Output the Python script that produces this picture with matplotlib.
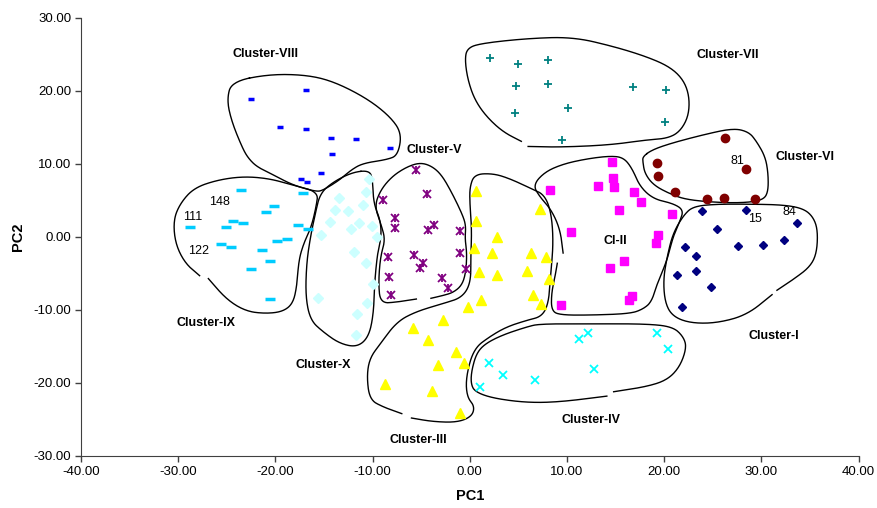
import numpy as np
import matplotlib
matplotlib.use("Agg")
import matplotlib.pyplot as plt
from matplotlib.ticker import FormatStrFormatter

plt.rcParams['font.family'] = ['Liberation Sans', 'DejaVu Sans']
plt.rcParams['axes.unicode_minus'] = False

# ---- cluster data (PC1, PC2) ----
c1_x = [23.9, 28.4, 33.7, 25.4, 22.1, 23.3, 27.6, 30.2, 32.3, 23.3, 21.3, 24.8, 21.8]
c1_y = [3.5, 3.7, 1.9, 1.1, -1.4, -2.6, -1.2, -1.1, -0.4, -4.6, -5.2, -6.8, -9.6]

c2_x = [14.6, 14.7, 14.8, 13.2, 8.2, 16.9, 17.6, 15.4, 20.8, 10.4, 19.4, 19.2, 15.9, 14.4, 16.7, 16.4, 9.4]
c2_y = [10.3, 8.1, 6.8, 7.0, 6.5, 6.1, 4.8, 3.7, 3.1, 0.7, 0.3, -0.8, -3.3, -4.2, -8.1, -8.6, -9.3]

c3_x = [0.6, 7.2, 0.6, 2.8, 0.4, 2.3, 6.3, 7.8, 0.9, 2.8, 5.9, 8.1, 6.5, 7.3, 1.1,
        -0.2, -2.8, -5.8, -4.3, -1.4, -3.3, -0.6, -8.7, -3.9, -1.0]
c3_y = [6.3, 3.8, 2.2, 0.0, -1.5, -2.2, -2.2, -2.7, -4.8, -5.2, -4.6, -5.8, -7.9, -9.2, -8.6,
        -9.6, -11.4, -12.5, -14.1, -15.7, -17.6, -17.3, -20.1, -21.1, -24.1]

c4_x = [12.2, 11.2, 19.3, 20.4, 2.0, 3.4, 6.7, 12.8, 1.0]
c4_y = [-13.1, -14.0, -13.2, -15.4, -17.2, -18.9, -19.6, -18.1, -20.5]

c5_x = [-5.5, -4.4, -8.9, -7.7, -7.7, -4.3, -3.7, -1.0, -8.4, -5.7, -4.8, -5.1, -1.0, -0.4, -8.3, -2.9, -2.2, -8.1]
c5_y = [9.2, 5.9, 5.0, 2.6, 1.2, 0.9, 1.6, 0.8, -2.7, -2.5, -3.5, -4.2, -2.2, -4.4, -5.5, -5.6, -7.0, -8.0]

c6_x = [26.3, 19.3, 19.4, 28.4, 21.1, 24.4, 26.2, 29.3]
c6_y = [13.5, 10.2, 8.3, 9.3, 6.1, 5.2, 5.4, 5.2]

c7_x = [2.1, 5.0, 8.0, 4.8, 8.0, 16.8, 20.2, 4.7, 10.1, 20.1, 9.5]
c7_y = [24.5, 23.7, 24.2, 20.7, 21.0, 20.5, 20.1, 17.0, 17.7, 15.7, 13.3]

c8_x = [-22.5, -16.9, -19.5, -16.9, -14.3, -11.7, -8.2, -14.2, -15.3, -17.4, -16.7]
c8_y = [18.9, 20.2, 15.1, 14.8, 13.5, 13.4, 12.2, 11.3, 8.7, 8.0, 7.6]

c9_x = [-23.5, -17.2, -20.1, -21.0, -24.4, -23.3, -25.1, -28.8, -17.7, -16.6, -18.8, -19.8,
        -25.6, -24.6, -21.4, -20.6, -22.5, -20.6]
c9_y = [6.4, 6.0, 4.3, 3.4, 2.2, 1.9, 1.3, 1.3, 1.6, 1.1, -0.3, -0.5,
        -1.0, -1.4, -1.8, -3.3, -4.4, -8.5]

c10_x = [-10.4, -13.5, -10.7, -13.9, -12.5, -11.0, -14.4, -12.2, -11.4, -10.1, -15.3, -9.6,
         -11.9, -10.7, -10.0, -15.6, -10.6, -11.6, -11.7]
c10_y = [7.9, 5.4, 6.2, 3.7, 3.5, 4.4, 2.0, 1.1, 1.9, 1.5, 0.3, 0.0,
         -2.1, -3.6, -6.4, -8.4, -9.0, -10.6, -13.4]

# point ids written next to some points
id_text = ['148', '111', '122', '81', '15', '84']
id_x = [-25.8, -28.5, -27.9, 27.5, 29.3, 32.9]
id_y = [4.75, 2.8, -1.9, 10.4, 2.5, 3.4]

# cluster names
names = ['Cluster-VIII', 'Cluster-VII', 'Cluster-VI', 'Cluster-V', 'Cl-II', 'Cluster-IX',
         'Cluster-X', 'Cluster-I', 'Cluster-IV', 'Cluster-III']
name_x = [-21.0, 26.5, 34.5, -3.7, 15.0, -27.1, -15.1, 31.3, 12.5, -5.3]
name_y = [25.0, 24.9, 11.0, 11.9, -0.6, -11.8, -17.5, -13.5, -25.1, -27.8]

# hand drawn outlines round the clusters (closed flag = no gap in the line)
out8 = [(-24.5, 21.3), (-20.6, 22.3), (-16.8, 22.2), (-14.0, 21.3), (-10.6, 19.0), (-8.2, 16.5),
        (-7.0, 14.2), (-7.4, 11.2), (-8.5, 10.6), (-11.0, 10.1), (-12.2, 9.2), (-13.4, 7.8),
        (-15.1, 6.4), (-15.8, 6.2), (-18.2, 7.1), (-20.2, 8.5), (-21.9, 9.6), (-22.8, 10.8),
        (-23.4, 12.2), (-24.5, 15.8), (-25.0, 18.8)]
out9 = [(-27.8, -5.3), (-29.3, -3.6), (-30.3, -0.9), (-30.5, 2.3), (-29.8, 4.6), (-28.4, 6.7),
        (-26.0, 7.8), (-23.3, 8.3), (-20.6, 8.0), (-18.2, 7.1), (-15.6, 6.2), (-15.8, 4.2),
        (-16.3, 1.4), (-17.1, -0.9), (-17.6, -3.2), (-17.8, -6.8), (-18.2, -9.1), (-19.2, -10.2),
        (-20.9, -10.5), (-23.0, -10.2), (-25.0, -8.6), (-26.9, -5.7)]
out10 = [(-12.0, 8.9), (-10.3, 9.1), (-10.0, 7.8), (-9.9, 4.6), (-9.2, 2.3), (-9.1, 0.0),
         (-9.5, -2.2), (-9.8, -6.3), (-9.9, -10.5), (-10.4, -13.7), (-11.6, -15.1), (-13.4, -14.6),
         (-15.1, -13.0), (-16.4, -11.4), (-16.9, -8.2), (-16.8, -3.6), (-16.4, 0.0), (-15.9, 3.2),
         (-15.4, 6.0), (-14.0, 7.6)]
out5 = [(-5.5, -8.5), (-7.4, -8.9), (-9.2, -9.1), (-9.4, -6.3), (-9.2, -2.7), (-8.7, -0.4),
        (-9.1, 1.6), (-9.8, 4.2), (-9.2, 6.4), (-8.0, 8.3), (-6.5, 9.6), (-5.1, 10.2), (-3.9, 9.7),
        (-2.9, 8.5), (-1.9, 6.2), (-0.8, 3.2), (-0.4, 1.6), (-0.5, -0.2), (-0.3, -2.2),
        (-0.4, -4.8), (-0.8, -6.6), (-1.7, -7.6), (-2.7, -8.0), (-4.0, -8.4)]
out3 = [(-7.0, -24.2), (-8.9, -23.3), (-10.3, -22.3), (-10.6, -19.1), (-10.3, -16.6), (-9.2, -14.6),
        (-7.5, -11.6), (-5.5, -10.2), (-2.7, -9.1), (-0.8, -8.3), (0.1, -6.3), (0.1, -2.7),
        (0.2, 1.0), (0.0, 4.6), (0.0, 6.9), (0.5, 8.6), (2.4, 8.7), (4.1, 8.0), (6.2, 6.7),
        (7.7, 5.8), (8.4, 3.2), (8.6, -0.9), (8.3, -5.4), (8.1, -9.1), (7.4, -10.9), (5.9, -11.4),
        (3.8, -12.3), (2.1, -13.6), (0.4, -15.3), (-0.4, -19.2), (-0.3, -21.9), (0.5, -23.2),
        (0.2, -24.6), (-1.3, -25.4), (-3.8, -25.3), (-6.0, -24.8)]
out2 = [(9.6, -2.2), (9.3, 1.0), (8.4, 3.7), (7.2, 5.5), (6.5, 7.1), (7.7, 8.9), (9.6, 10.0),
        (12.0, 10.7), (14.4, 11.1), (15.8, 10.9), (16.7, 9.4), (17.5, 6.9), (18.9, 5.2),
        (20.9, 4.6), (22.0, 3.7), (21.6, 2.1), (20.9, 0.0), (20.3, -3.2), (19.3, -6.3),
        (18.7, -8.9), (17.8, -9.9), (16.5, -10.5), (12.7, -10.7), (9.3, -10.7), (8.4, -10.1),
        (8.4, -7.7), (8.8, -5.2), (9.0, -3.6)]
out7 = [(6.0, 12.4), (9.3, 12.3), (14.4, 12.6), (18.2, 13.3), (20.3, 13.5), (21.6, 14.4),
        (22.5, 16.5), (22.6, 19.2), (22.0, 21.5), (20.6, 23.3), (18.2, 24.7), (14.8, 26.1),
        (10.6, 27.4), (5.9, 27.2), (1.0, 26.5), (-0.3, 25.8), (-0.5, 24.2), (-0.2, 21.5),
        (0.5, 18.8), (1.7, 16.5), (3.4, 14.4), (5.3, 13.1)]
out6 = [(17.8, 11.0), (18.7, 11.9), (20.6, 12.8), (24.0, 14.0), (27.1, 14.9), (28.7, 14.4),
        (29.5, 13.1), (30.4, 11.0), (30.7, 8.7), (30.7, 6.2), (30.2, 5.1), (28.5, 4.7),
        (25.7, 4.7), (22.3, 5.1), (20.6, 5.9), (18.9, 7.1), (18.0, 8.7), (17.8, 10.3)]
out1 = [(31.6, -7.3), (33.3, -5.8), (35.0, -4.1), (35.7, -2.2), (35.8, 1.0), (35.3, 2.8),
        (34.3, 3.9), (32.3, 4.4), (28.8, 4.5), (25.4, 4.5), (23.0, 4.2), (22.0, 3.0), (20.9, 0.5),
        (20.3, -2.7), (19.9, -5.9), (20.1, -9.1), (20.9, -10.9), (22.7, -11.8), (25.4, -11.8),
        (28.5, -10.7), (31.1, -7.9)]
out4 = [(14.8, -21.2), (18.2, -20.5), (20.3, -19.6), (21.6, -17.8), (22.3, -15.2), (22.0, -13.7),
        (20.9, -12.3), (18.2, -11.9), (12.7, -11.9), (7.2, -11.9), (5.9, -12.3), (3.4, -13.4),
        (1.6, -14.6), (0.7, -15.9), (0.2, -18.2), (0.1, -20.0), (0.5, -21.2), (2.4, -22.1),
        (5.9, -22.7), (9.3, -22.6), (14.1, -21.8)]
outlines = [(out8, True), (out9, False), (out10, True), (out5, False), (out3, False),
            (out2, False), (out7, False), (out6, True), (out1, False), (out4, False)]


def chaikin(pts, closed, n=4):
    p = np.asarray(pts, float)
    for _ in range(n):
        if closed:
            q = np.roll(p, -1, axis=0)
            a, b = 0.75 * p + 0.25 * q, 0.25 * p + 0.75 * q
        else:
            a = 0.75 * p[:-1] + 0.25 * p[1:]
            b = 0.25 * p[:-1] + 0.75 * p[1:]
        mid = np.empty((2 * len(a), 2))
        mid[0::2], mid[1::2] = a, b
        p = mid if closed else np.vstack([p[0], mid, p[-1]])
    if closed:
        p = np.vstack([p, p[:1]])
    return p


fig = plt.figure(figsize=(8.77, 5.08), dpi=100)
ax = fig.add_axes([0.0924, 0.1024, 0.8866, 0.8622])

for pts, closed in outlines:
    s = chaikin(pts, closed)
    ax.plot(s[:, 0], s[:, 1], color='black', lw=1.0, zorder=1)

ax.plot(c1_x, c1_y, 'D', color='#000080', ms=4.5, mec='#000080', zorder=3)
ax.plot(c2_x, c2_y, 's', color='#FF00FF', ms=6, mec='#FF00FF', zorder=3)
ax.plot(c3_x, c3_y, '^', color='#FFFF00', ms=7, mec='#FFFF00', zorder=3)
ax.plot(c4_x, c4_y, 'x', color='#00FFFF', ms=6, mew=1.3, zorder=3)
ax.plot(c5_x, c5_y, 'x', color='#800080', ms=6, mew=1.3, zorder=3)
ax.plot(c5_x, c5_y, '|', color='#800080', ms=6, mew=1.3, zorder=3)
ax.plot(c6_x, c6_y, 'o', color='#800000', ms=6, mec='#800000', zorder=3)
ax.plot(c7_x, c7_y, '+', color='#008080', ms=6, mew=1.3, zorder=3)
ax.plot(c8_x, c8_y, '_', color='#0000FF', ms=5, mew=2.5, zorder=3)
ax.plot(c9_x, c9_y, '_', color='#00CCFF', ms=7.5, mew=2.5, zorder=3)
ax.plot(c10_x, c10_y, 'D', color='#CCFFFF', ms=5.5, mec='#CCFFFF', zorder=3)

for t, x, y in zip(id_text, id_x, id_y):
    ax.text(x, y, t, fontsize=9, ha='center', va='center')
for t, x, y in zip(names, name_x, name_y):
    ax.text(x, y, t, fontsize=9, fontweight='bold', ha='center', va='center')

ax.set_xlim(-40, 40)
ax.set_ylim(-30, 30)
ax.set_xticks(np.arange(-40, 41, 10))
ax.set_yticks(np.arange(-30, 31, 10))
ax.xaxis.set_major_formatter(FormatStrFormatter('%.2f'))
ax.yaxis.set_major_formatter(FormatStrFormatter('%.2f'))
ax.tick_params(direction='out', length=4, width=1, colors='#404040', labelcolor='black',
               labelsize=9.5, pad=3)
ax.spines['top'].set_visible(False)
ax.spines['right'].set_visible(False)
ax.spines['left'].set_color('#404040')
ax.spines['bottom'].set_color('#404040')
ax.set_xlabel('PC1', fontsize=10.5, fontweight='bold', labelpad=8)
ax.set_ylabel('PC2', fontsize=10.5, fontweight='bold', labelpad=6)

fig.savefig('out.png', dpi=100)
